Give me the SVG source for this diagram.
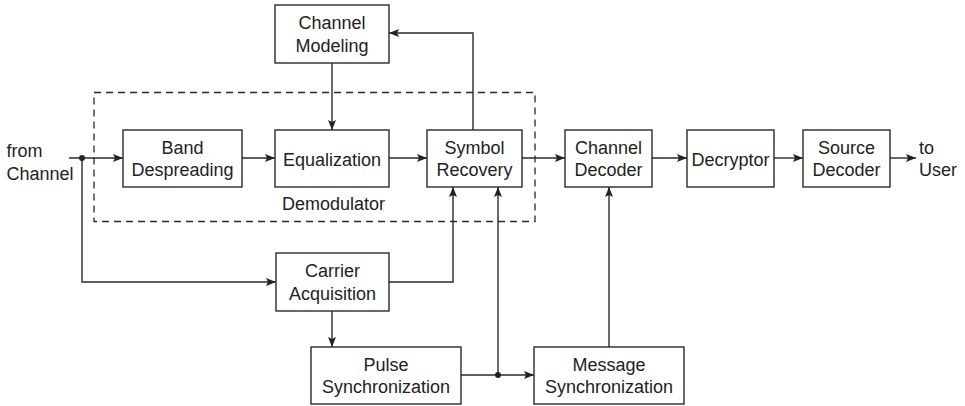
<svg xmlns="http://www.w3.org/2000/svg" width="965" height="406" viewBox="0 0 965 406">
<style>
.box{fill:#fff;stroke:#2a2a2a;stroke-width:1.4}
.t{font-family:"Liberation Sans",Arial,sans-serif;font-size:18px;fill:#222;text-anchor:middle}
.tl{font-family:"Liberation Sans",Arial,sans-serif;font-size:18px;fill:#222}
.c{fill:none;stroke:#2a2a2a;stroke-width:1.4}
.dash{fill:none;stroke:#2a2a2a;stroke-width:1.3;stroke-dasharray:7 5}
</style>
<defs>
<marker id="ah" viewBox="0 0 10 8" refX="10" refY="4" markerWidth="10" markerHeight="8" markerUnits="userSpaceOnUse" orient="auto">
<path d="M0,0 L10,4 L0,8 L2,4 Z" fill="#222"/>
</marker>
</defs>
<rect class="dash" x="94" y="92.5" width="441" height="129"/>
<text class="tl" x="282" y="210">Demodulator</text>
<text class="tl" x="6.5" y="157">from</text>
<text class="tl" x="6.5" y="180">Channel</text>
<text class="tl" x="919" y="154">to</text>
<text class="tl" x="919" y="176">User</text>
<g id="connectors">
<path class="c" d="M69,158 H123" marker-end="url(#ah)"/>
<path class="c" d="M82,158 V282 H276" marker-end="url(#ah)"/>
<path class="c" d="M242,158 H275" marker-end="url(#ah)"/>
<path class="c" d="M389,158 H427" marker-end="url(#ah)"/>
<path class="c" d="M522,158 H565" marker-end="url(#ah)"/>
<path class="c" d="M652,158 H687" marker-end="url(#ah)"/>
<path class="c" d="M774,158 H803" marker-end="url(#ah)"/>
<path class="c" d="M890,158 H916" marker-end="url(#ah)"/>
<path class="c" d="M473,130 V33 H389" marker-end="url(#ah)"/>
<path class="c" d="M332,63 V130" marker-end="url(#ah)"/>
<path class="c" d="M389,282 H453 V187" marker-end="url(#ah)"/>
<path class="c" d="M332,311 V347" marker-end="url(#ah)"/>
<path class="c" d="M461,375 H534" marker-end="url(#ah)"/>
<path class="c" d="M498,375 V187" marker-end="url(#ah)"/>
<path class="c" d="M609,347 V187" marker-end="url(#ah)"/>
<circle cx="82" cy="158" r="3" fill="#222"/>
<circle cx="498" cy="375" r="3" fill="#222"/>
</g>
<g id="channel-modeling"><rect class="box" x="275" y="5" width="114" height="58"/><text class="t" x="332" y="29">Channel</text><text class="t" x="332" y="51.5">Modeling</text></g>
<g id="band-despreading"><rect class="box" x="123" y="130" width="119" height="57"/><text class="t" x="182.5" y="154">Band</text><text class="t" x="182.5" y="176">Despreading</text></g>
<g id="equalization"><rect class="box" x="275" y="130" width="114" height="57"/><text class="t" x="332" y="165.5">Equalization</text></g>
<g id="symbol-recovery"><rect class="box" x="427" y="130" width="95" height="57"/><text class="t" x="474.5" y="154">Symbol</text><text class="t" x="474.5" y="176">Recovery</text></g>
<g id="channel-decoder"><rect class="box" x="565" y="130" width="87" height="57"/><text class="t" x="608.5" y="154">Channel</text><text class="t" x="608.5" y="176">Decoder</text></g>
<g id="decryptor"><rect class="box" x="687" y="130" width="87" height="57"/><text class="t" x="730.5" y="165.5">Decryptor</text></g>
<g id="source-decoder"><rect class="box" x="803" y="130" width="87" height="57"/><text class="t" x="846.5" y="154">Source</text><text class="t" x="846.5" y="176">Decoder</text></g>
<g id="carrier-acquisition"><rect class="box" x="276" y="253" width="113" height="58"/><text class="t" x="332.5" y="277">Carrier</text><text class="t" x="332.5" y="299.5">Acquisition</text></g>
<g id="pulse-synchronization"><rect class="box" x="311" y="347" width="150" height="57"/><text class="t" x="386" y="371">Pulse</text><text class="t" x="386" y="393">Synchronization</text></g>
<g id="message-synchronization"><rect class="box" x="534" y="347" width="150" height="57"/><text class="t" x="609" y="371">Message</text><text class="t" x="609" y="393">Synchronization</text></g>
</svg>
